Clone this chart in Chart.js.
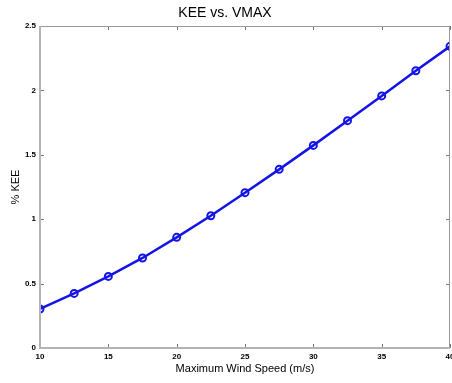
<!DOCTYPE html>
<html>
<head>
<meta charset="utf-8">
<script src="https://cdn.jsdelivr.net/npm/chart.js@4"></script>
<style>
    html, body { margin: 0; padding: 0; background: #ffffff; }
    #wrap { width: 452px; height: 383px; }
</style>
</head>
<body>
<div id="wrap"><canvas id="keeChart" width="452" height="383"></canvas></div>
<script>
// wind speed (m/s) and kinetic energy exchange (%)
const windSpeed = [10, 12.5, 15, 17.5, 20, 22.5, 25, 27.5, 30, 32.5, 35, 37.5, 40];
const keePercent = [0.303, 0.424, 0.556, 0.699, 0.859, 1.027, 1.206, 1.387, 1.573, 1.765, 1.957, 2.153, 2.342];
const xTickValues = [10, 15, 20, 25, 30, 35, 40];
const yTickValues = [0, 0.5, 1, 1.5, 2, 2.5];

const FONT = "'Liberation Sans', Arial, Helvetica, sans-serif";

// small inward tick marks on all four sides, matlab style
const insideTicks = {
    id: 'insideTicks',
    afterDatasetsDraw(chart) {
        const ctx = chart.ctx;
        const area = chart.chartArea;
        const xs = chart.scales.x;
        const ys = chart.scales.y;
        ctx.save();
        ctx.strokeStyle = '#777777';
        ctx.lineWidth = 1;
        ctx.beginPath();
        xTickValues.forEach(v => {
            const px = Math.round(xs.getPixelForValue(v)) + 0.5;
            ctx.moveTo(px, area.bottom);
            ctx.lineTo(px, area.bottom - 4);
            ctx.moveTo(px, area.top);
            ctx.lineTo(px, area.top + 4);
        });
        yTickValues.forEach(v => {
            const py = Math.round(ys.getPixelForValue(v)) + 0.5;
            ctx.moveTo(area.left, py);
            ctx.lineTo(area.left + 4, py);
            ctx.moveTo(area.right, py);
            ctx.lineTo(area.right - 4, py);
        });
        ctx.stroke();

        // box: light heavy left/bottom, thin top/right
        ctx.strokeStyle = '#9a9a9a';
        ctx.lineWidth = 1;
        ctx.beginPath();
        ctx.moveTo(area.left, area.top + 0.5);
        ctx.lineTo(area.right - 0.5, area.top + 0.5);
        ctx.lineTo(area.right - 0.5, area.bottom);
        ctx.stroke();
        ctx.strokeStyle = '#b4b4b4';
        ctx.lineWidth = 2;
        ctx.beginPath();
        ctx.moveTo(area.left, area.top);
        ctx.lineTo(area.left, area.bottom);
        ctx.lineTo(area.right, area.bottom);
        ctx.stroke();
        ctx.restore();
    }
};

const ctx = document.getElementById('keeChart').getContext('2d');
new Chart(ctx, {
    type: 'line',
    data: {
        datasets: [{
            label: 'KEE',
            data: windSpeed.map((w, i) => ({ x: w, y: keePercent[i] })),
            borderColor: '#1414e6',
            borderWidth: 2.5,
            pointStyle: 'circle',
            pointRadius: 3.5,
            pointBorderWidth: 2,
            pointBorderColor: '#1414e6',
            pointBackgroundColor: 'rgba(0,0,0,0)',
            tension: 0
        }]
    },
    options: {
        responsive: false,
        animation: false,
        layout: { autoPadding: false, padding: { top: 0, left: 0, right: 2, bottom: 0 } },
        plugins: {
            legend: { display: false },
            tooltip: { enabled: false },
            title: {
                display: true,
                text: 'KEE vs. VMAX',
                color: '#000000',
                font: { family: FONT, size: 14, weight: 'normal' },
                padding: { top: 5, bottom: 4.2 }
            }
        },
        scales: {
            x: {
                type: 'linear',
                min: 10,
                max: 40,
                afterBuildTicks: scale => { scale.ticks = xTickValues.map(v => ({ value: v })); },
                afterFit: scale => { scale.height = 35; scale.paddingLeft = 0; scale.paddingRight = 0; },
                grid: { display: false, drawTicks: false },
                border: { display: false },
                ticks: {
                    color: '#000000',
                    padding: 4,
                    maxRotation: 0,
                    callback: value => String(value),
                    font: { family: FONT, size: 8, weight: 'bold' }
                },
                title: {
                    display: true,
                    text: 'Maximum Wind Speed (m/s)',
                    color: '#000000',
                    font: { family: FONT, size: 11 },
                    padding: { top: 1, bottom: 7 }
                }
            },
            y: {
                type: 'linear',
                min: 0,
                max: 2.5,
                afterBuildTicks: scale => { scale.ticks = yTickValues.map(v => ({ value: v })); },
                afterFit: scale => { scale.width = 40; scale.paddingTop = 0; scale.paddingBottom = 0; },
                grid: { display: false, drawTicks: false },
                border: { display: false },
                ticks: {
                    color: '#000000',
                    padding: 4,
                    callback: value => String(value),
                    font: { family: FONT, size: 8, weight: 'bold' }
                },
                title: {
                    display: true,
                    text: '% KEE',
                    color: '#000000',
                    font: { family: FONT, size: 11 },
                    padding: { top: 9, bottom: 4 }
                }
            }
        }
    },
    plugins: [insideTicks]
});
</script>
</body>
</html>
